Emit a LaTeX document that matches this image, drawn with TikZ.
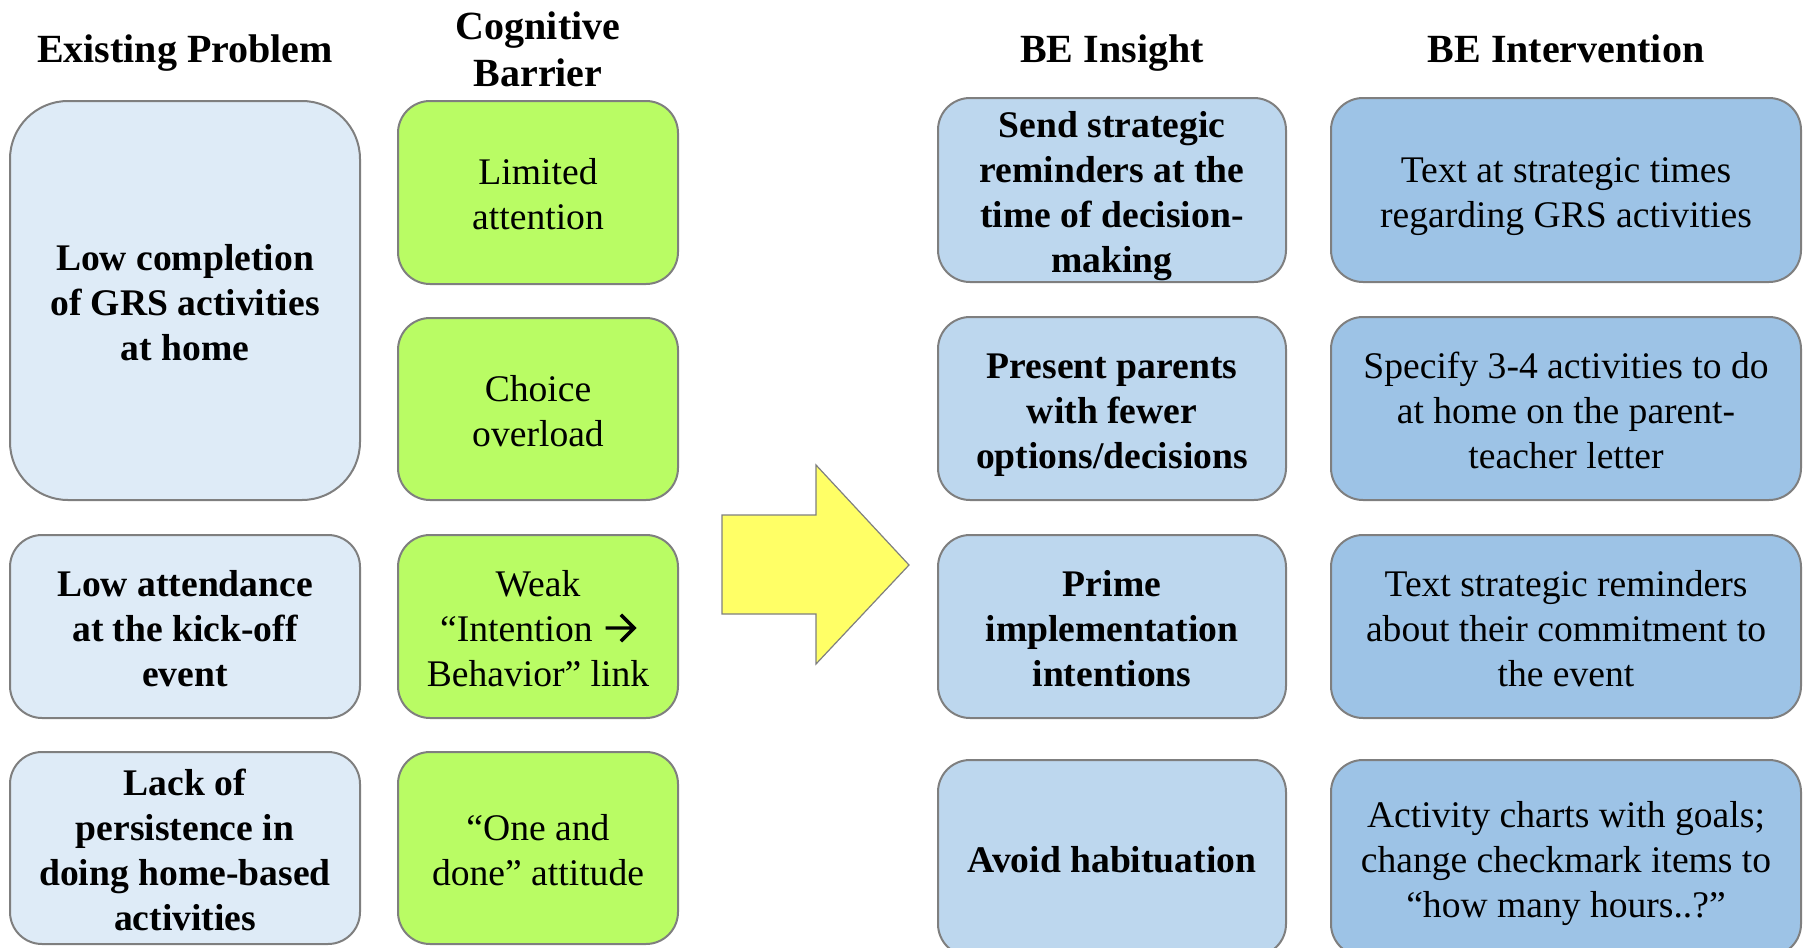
\documentclass[tikz,border=0pt]{standalone}
\usepackage{fontspec}
\setmainfont{Liberation Serif}
\usetikzlibrary{positioning}

\definecolor{probfill}{HTML}{DEEBF7}
\definecolor{barrfill}{RGB}{185,252,100}
\definecolor{insfill}{HTML}{BDD7EE}
\definecolor{intfill}{HTML}{9DC3E6}
\definecolor{edgegray}{HTML}{7F7F7F}
\definecolor{arrowfill}{HTML}{FFFF66}

% cell text with a fixed first-line ascent and last-line descent,
% so every box centres its lines the same way
\newcommand\celltext[1]{\rule{0pt}{18.8pt}#1\rule[-4.1pt]{0pt}{4.1pt}}

% heavy open-headed arrow used inside running text
\newcommand\thickarrow{\tikz[baseline=0pt, x=1pt, y=1pt, sharp corners]
  \draw[draw=black, line width=1.7pt, line cap=butt, line join=miter]
    (0,6.6) -- (14,6.6) (7.6,0) -- (14.2,6.6) -- (7.6,13.2);}

\tikzset{
  every node/.style={font=\fontsize{18.8pt}{22.5pt}\selectfont, align=center, inner sep=0pt},
  headtext/.style={font=\fontsize{20pt}{23.5pt}\selectfont\bfseries, anchor=north},
  cell/.style={draw=edgegray, line width=1pt, rounded corners=16pt},
  probbox/.style={cell, fill=probfill, font=\fontsize{18.8pt}{22.5pt}\selectfont\bfseries},
  barrbox/.style={cell, fill=barrfill},
  insbox/.style={cell, fill=insfill, font=\fontsize{18.8pt}{22.5pt}\selectfont\bfseries},
  intbox/.style={cell, fill=intfill},
  bigarrow/.style={draw=edgegray, line width=0.6pt, fill=arrowfill}
}

\begin{document}
\begin{tikzpicture}[x=0.5pt, y=-0.5pt]
\useasboundingbox (0,0) rectangle (1806,948);
\clip (0,0) rectangle (1806,948);

% column headings
\node[headtext] (hprob) at (185,34) {Existing Problem};
\node[headtext] (hbarr) at (538,11) {Cognitive\\Barrier};
\node[headtext] (hins)  at (1112,34) {BE Insight};
\node[headtext] (hint)  at (1566,34) {BE Intervention};

% existing problems
\node[probbox, rounded corners=29pt, minimum width=175pt, minimum height=199.5pt] (p1) at (185,300.5)
  {\celltext{Low completion\\of GRS activities\\at home}};
\node[probbox, minimum width=175pt, minimum height=91.5pt] (p2) at (185,626.5)
  {\celltext{Low attendance\\at the kick-off\\event}};
\node[probbox, minimum width=175pt, minimum height=96pt] (p3) at (185,848)
  {\celltext{Lack of\\persistence in\\doing home-based\\activities}};

% cognitive barriers
\node[barrbox, minimum width=140pt, minimum height=91.5pt] (b1) at (538,192.5)
  {\celltext{Limited\\attention}};
\node[barrbox, minimum width=140pt, minimum height=91pt] (b2) at (538,409)
  {\celltext{Choice\\overload}};
\node[barrbox, minimum width=140pt, minimum height=91.5pt] (b3) at (538,626.5)
  {\celltext{Weak\\“Intention\kern1pt\ \thickarrow\\Behavior” link}};
\node[barrbox, minimum width=140pt, minimum height=96pt] (b4) at (538,848)
  {\celltext{“One and\\done” attitude}};

% block arrow between the halves
\draw[bigarrow] (722,515) -- (816,515) -- (816,465) -- (909,565)
  -- (816,664) -- (816,614) -- (722,614) -- cycle;

% BE insights
\node[insbox, minimum width=174pt, minimum height=92pt] (i1) at (1112,190)
  {\celltext{Send strategic\\reminders at the\\time of decision-\\making}};
\node[insbox, minimum width=174pt, minimum height=91.5pt] (i2) at (1112,408.5)
  {\celltext{Present parents\\with fewer\\options/decisions}};
\node[insbox, minimum width=174pt, minimum height=91.5pt] (i3) at (1112,626.5)
  {\celltext{Prime\\implementation\\intentions}};
\node[insbox, minimum width=174pt, minimum height=98pt] (i4) at (1112,858)
  {\celltext{Avoid habituation}};

% BE interventions
\node[intbox, minimum width=235pt, minimum height=92pt] (t1) at (1566,190)
  {\celltext{Text at strategic times\\regarding GRS activities}};
\node[intbox, minimum width=235pt, minimum height=91.5pt] (t2) at (1566,408.5)
  {\celltext{Specify 3-4 activities to do\\at home on the parent-\\teacher letter}};
\node[intbox, minimum width=235pt, minimum height=91.5pt] (t3) at (1566,626.5)
  {\celltext{Text strategic reminders\\about their commitment to\\the event}};
\node[intbox, minimum width=235pt, minimum height=98pt] (t4) at (1566,858)
  {\celltext{Activity charts with goals;\\change checkmark items to\\“how many hours..?”}};
\end{tikzpicture}
\end{document}
